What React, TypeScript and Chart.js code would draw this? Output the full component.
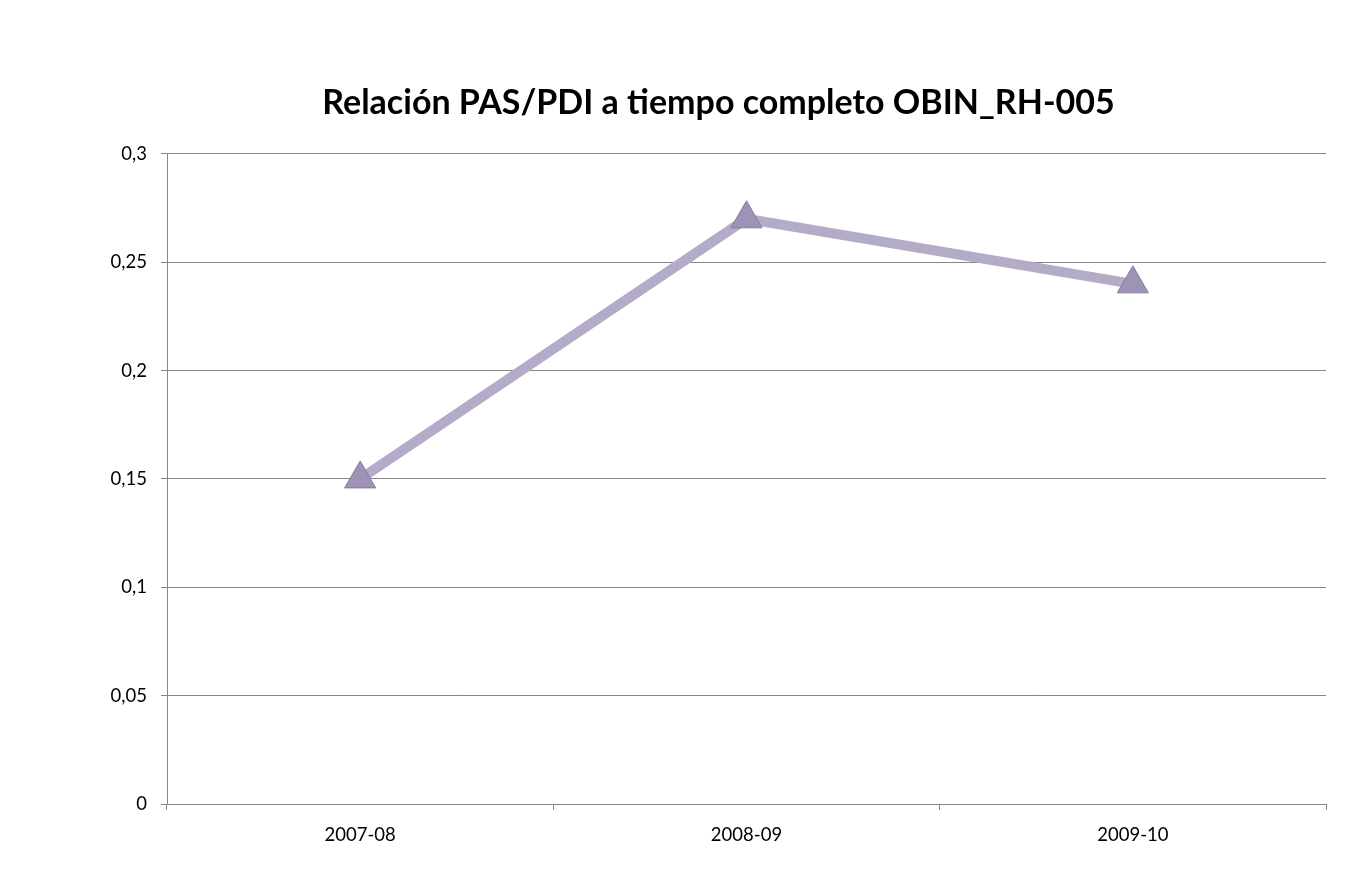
import React, { useEffect, useRef } from "react";
import { Chart, registerables } from "chart.js";

Chart.register(...registerables);

const TITLE = "Relación PAS/PDI a tiempo completo OBIN_RH-005";
const categories = ["2007-08", "2008-09", "2009-10"];
const ratioValues = [0.15, 0.27, 0.24];
const yTickLabels = ["0", "0,05", "0,1", "0,15", "0,2", "0,25", "0,3"];

const GRID = "#868686";
const LINE = "#b4abc9";

const App: React.FC = () => {
  const canvasRef = useRef<HTMLCanvasElement>(null);

  useEffect(() => {
    if (!canvasRef.current) return;
    const chart = new Chart(canvasRef.current, {
      type: "line",
      data: {
        labels: categories,
        datasets: [
          {
            label: "OBIN_RH-005",
            data: ratioValues,
            borderColor: LINE,
            borderWidth: 10,
            pointStyle: "triangle",
            pointRadius: 18,
            pointBackgroundColor: "#9e93b7",
            pointBorderColor: "#86799f",
            pointBorderWidth: 1,
            tension: 0,
          },
        ],
      },
      options: {
        animation: false,
        responsive: false,
        layout: { padding: { left: 111, right: 23, top: 0, bottom: 24 } },
        plugins: {
          legend: { display: false },
          tooltip: { enabled: false },
          title: {
            display: true,
            text: TITLE,
            color: "#000",
            font: { family: "Lato", size: 34, weight: "bold" },
            padding: { top: 83, bottom: 30 },
          },
        },
        scales: {
          x: {
            offset: true,
            grid: {
              offset: true,
              drawOnChartArea: false,
              color: GRID,
              tickLength: 6,
            },
            border: { color: GRID },
            ticks: {
              color: "#000",
              padding: 14,
              font: { family: "Lato", size: 18.5 },
            },
            afterFit: (s: any) => {
              s.height = 46;
            },
          },
          y: {
            min: 0,
            max: 0.3,
            grid: { color: GRID, tickLength: 6 },
            border: { color: GRID },
            ticks: {
              stepSize: 0.05,
              color: "#000",
              padding: 14,
              font: { family: "Lato", size: 18.5 },
              callback: (_v: any, i: number) => yTickLabels[i] ?? "",
            },
            afterFit: (s: any) => {
              s.width = 56;
            },
          },
        },
      },
    });
    return () => chart.destroy();
  }, []);

  return (
    <div
      style={{
        position: "absolute",
        left: 0,
        top: 0,
        width: 1349,
        height: 874,
        background: "#fff",
      }}
    >
      <canvas ref={canvasRef} width={1349} height={874} />
    </div>
  );
};

export default App;
